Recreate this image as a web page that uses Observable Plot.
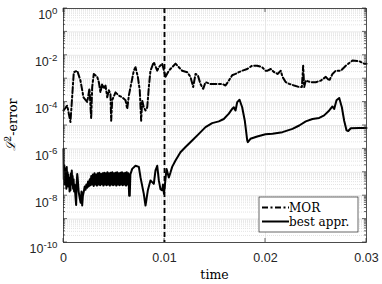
<!DOCTYPE html>
<html><head><meta charset="utf-8">
<script src="https://cdn.jsdelivr.net/npm/d3@7"></script>
<script src="https://cdn.jsdelivr.net/npm/@observablehq/plot@0.6"></script>
<style>body{margin:0;background:#fff}</style>
</head><body><div id="chart"></div>
<script>
// ---- data ----
const morT = [0,0.00037,0.00069,0.00102,0.00136,0.00168,0.00198,0.00235,0.00257,0.00274,0.00284,0.0030,0.00334,0.0035,0.00366,0.00383,0.00399,0.00416,0.00433,0.00449,0.00465,0.00472,0.00482,0.00515,0.00548,0.00581,0.00614,0.00631,0.00647,0.0067,0.00696,0.00713,0.00736,0.00755,0.00769,0.00779,0.00795,0.00812,0.00829,0.00845,0.00861,0.00894,0.00928,0.00944,0.00977,0.0101,0.01043,0.01076,0.01109,0.01142,0.01175,0.01225,0.01257,0.01284,0.01307,0.0133,0.01356,0.01383,0.01406,0.01455,0.01505,0.01571,0.01604,0.01637,0.0167,0.01703,0.01736,0.01769,0.01819,0.01868,0.01918,0.01967,0.02,0.0202,0.02052,0.02086,0.02119,0.02151,0.02168,0.02201,0.02235,0.02284,0.02334,0.0236,0.02373,0.02383,0.02399,0.02449,0.02498,0.02548,0.02597,0.02631,0.02663,0.02696,0.02746,0.02795,0.02861,0.02928,0.02977,0.03];
const morV = [4.4e-5,7.1e-5,1.4e-5,1.9e-3,2.2e-3,8.3e-4,1.6e-4,1.0e-4,3.8e-4,2.0e-5,4.4e-4,1.6e-3,1.2e-3,7.1e-4,2.6e-4,6.0e-4,3.7e-4,5.1e-4,1.6e-4,3.2e-4,2.2e-4,1.6e-5,1.2e-4,2.6e-4,1.9e-4,1.6e-4,1.2e-4,5.1e-5,1.9e-4,6.0e-4,2.2e-3,3.1e-3,1.2e-3,3.2e-4,1.6e-5,1.2e-4,6.0e-5,4.4e-5,6.0e-5,4.4e-4,2.2e-3,5.1e-3,2.2e-3,3.1e-3,4.4e-3,1.2e-3,2.2e-3,3.1e-3,4.4e-3,3.1e-3,2.2e-3,1.9e-3,1.2e-3,4.4e-4,1.6e-3,1.4e-3,6.0e-4,3.7e-4,7.1e-4,6.0e-4,6.0e-4,6.0e-4,5.1e-4,8.3e-4,1.4e-3,1.6e-3,1.9e-3,2.2e-3,2.6e-3,3.6e-3,3.6e-3,3.1e-3,2.2e-3,2.2e-3,2.6e-3,1.9e-3,1.6e-3,2.2e-3,1.2e-3,7.1e-4,6.0e-4,5.1e-4,4.4e-4,4.4e-4,3.6e-3,4.4e-4,8.3e-4,7.1e-4,7.1e-4,8.3e-4,1.2e-3,8.3e-4,1.6e-3,2.2e-3,2.2e-3,3.6e-3,6.0e-3,5.6e-3,4.4e-3,4.4e-3];

const bestT = [0,0.00003,0.00008,0.00012,0.00016,0.0002,0.00024,0.00028,0.00032,0.00036,0.0004,0.00044,0.00048,0.00052,0.00056,0.0006,0.00064,0.00069,0.00074,0.00078,0.00082,0.00086,0.0009,0.00095,0.001,0.00105,0.0011,0.00119,0.00125,0.0013,0.00136,0.0014,0.00145,0.0015,0.0016,0.0017,0.00178,0.00185,0.00192,0.00201,0.0021,0.00218,0.00226,0.00235,0.00243,0.00251,0.0026,
0.00267,0.00275,0.00283,0.00291,0.00299,0.00307,0.00315,0.00323,0.00331,0.00339,0.00347,0.00355,0.00363,0.00371,0.00379,0.00387,0.00395,0.00403,0.00411,0.00419,0.00427,0.00435,0.00443,0.00451,0.00459,0.00467,0.00475,0.00483,0.00491,0.00499,0.00507,0.00515,0.00523,0.00531,0.00539,0.00547,0.00555,0.00563,0.00571,0.00579,0.00587,0.00595,0.00603,0.00611,0.00619,0.00627,0.00635,0.00643,0.0065,0.00656,0.00662,
0.0068,0.00713,0.00746,0.00762,0.00795,0.00812,0.00835,0.00861,0.00894,0.00911,0.00928,0.00944,0.0096,0.00977,0.00985,0.00995,0.0102,0.01043,0.0106,0.01076,0.01109,0.01158,0.01208,0.01274,0.0134,0.01406,0.01472,0.01538,0.01587,0.01637,0.0167,0.01686,0.01703,0.0172,0.01743,0.01769,0.01795,0.01819,0.01825,0.01851,0.01918,0.02,0.02069,0.02168,0.02267,0.02334,0.02399,0.02465,0.02532,0.02581,0.02631,0.02663,0.0268,0.02703,0.0273,0.02756,0.02779,0.02802,0.02819,0.02845,0.02928,0.03];
const bestV = [1e-6,5e-8,2e-7,3e-8,1.5e-7,4e-8,1.2e-7,2e-8,1.7e-7,5e-8,1.0e-7,2.5e-8,8e-8,3e-8,6e-8,1.5e-8,5e-8,1.7e-8,9e-8,3e-8,1.2e-7,4e-8,7e-8,2e-8,5e-8,1.5e-8,3e-8,8.7e-9,4e-9,3e-8,8.5e-8,6e-8,3e-8,1.5e-8,8e-9,5e-9,1.5e-8,3.8e-9,1e-8,1.5e-8,2.5e-8,1.8e-8,3e-8,2.2e-8,4e-8,2.5e-8,5e-8,
2.8e-8,7e-8,3e-8,8e-8,2.6e-8,9e-8,3e-8,8e-8,2.7e-8,9e-8,3e-8,9.5e-8,2.8e-8,8.5e-8,3.1e-8,9e-8,2.7e-8,9.5e-8,3e-8,9e-8,2.8e-8,1.0e-7,3e-8,9e-8,2.7e-8,9.5e-8,3e-8,1.0e-7,2.8e-8,9e-8,3e-8,9.5e-8,2.7e-8,1.0e-7,3e-8,9e-8,2.8e-8,9.5e-8,3e-8,1.0e-7,2.8e-8,9e-8,3e-8,9.5e-8,2.7e-8,1.0e-7,3e-8,9e-8,1.0e-8,1.0e-8,8e-8,
1.4e-7,1.9e-7,1.7e-7,6.2e-8,1.2e-8,3.8e-9,1.7e-8,4.5e-8,3.2e-8,1.2e-7,1.9e-7,4.5e-8,1.9e-8,1.7e-8,3e-8,1.2e-8,1.4e-7,6e-8,1e-7,1.7e-7,3.2e-7,7.2e-7,1.2e-6,2.3e-6,4.4e-6,8.5e-6,1.26e-5,1.5e-5,1.9e-5,3.2e-5,5.1e-5,6.0e-5,4.4e-5,1.0e-4,1.26e-4,6.0e-5,1.6e-5,2.3e-6,1.95e-6,2.7e-6,3.4e-6,4.2e-6,4.4e-6,5.2e-6,7.2e-6,1.0e-5,1.5e-5,1.9e-5,2.1e-5,2.7e-5,4.4e-5,6.5e-5,5.1e-5,1.2e-4,1.5e-4,6.0e-5,1.6e-5,6.2e-6,5.8e-6,7.6e-6,7.9e-6,7.9e-6];

const xTicks = [0, 0.01, 0.02, 0.03];
const xTickLabels = ["0", "0.01", "0.02", "0.03"];
const yExponents = [0, -2, -4, -6, -8, -10];
const switchTime = [0.01];
const legendLabels = ["MOR", "best appr."];
const xLabel = "time";

// ---- derived tables ----
const mor = morT.map((t, i) => ({t, v: morV[i]}));
const best = bestT.map((t, i) => ({t, v: bestV[i]}));
const yTicks = yExponents.map(e => Math.pow(10, e));
const decades = d3.range(-10, 1).map(e => Math.pow(10, e));
const minors = [];
for (let e = -10; e < 0; e++) for (let k = 2; k <= 9; k++) minors.push(k * Math.pow(10, e));

const morDash = "6,2.5,2,2.5";
const W = 382, H = 284;
const plot = Plot.plot({
  width: W, height: H,
  marginLeft: 63, marginRight: 16, marginTop: 8, marginBottom: 42,
  style: {fontFamily: "'Liberation Sans', Arial, sans-serif", fontSize: "12.5px", background: "#fff", color: "#262626"},
  x: {domain: [0, 0.03]},
  y: {type: "log", domain: [1e-10, 1]},
  marks: [
    Plot.ruleY(minors, {stroke: "#d0d0d0", strokeWidth: 0.6, strokeDasharray: "1,1"}),
    Plot.ruleY(decades, {stroke: "#dedede", strokeWidth: 0.7}),
    Plot.ruleX(xTicks.slice(1, -1), {stroke: "#dedede", strokeWidth: 0.7}),
    Plot.line(mor, {x: "t", y: "v", stroke: "#000", strokeWidth: 2, strokeDasharray: morDash}),
    Plot.line(best, {x: "t", y: "v", stroke: "#000", strokeWidth: 2}),
    Plot.ruleX(switchTime, {stroke: "#000", strokeWidth: 1.8, strokeDasharray: "5,3"}),
    Plot.axisX(xTicks, {tickSize: 0, tickPadding: 11, tickFormat: (d, i) => xTickLabels[i], label: null}),
    Plot.axisY(yTicks, {tickSize: 0, tickPadding: 6, tickFormat: d => "10^" + Math.round(Math.log10(d)), label: null}),
    Plot.frame({stroke: "#262626", strokeWidth: 0.8})
  ]
});
document.getElementById("chart").appendChild(plot);

const svg = d3.select(plot.tagName === "svg" ? plot : plot.querySelector("svg"));
const sx = plot.scale("x"), sy = plot.scale("y");
const x0 = sx.apply(0), x1 = sx.apply(0.03), y0 = sy.apply(1e-10), y1 = sy.apply(1);

// superscript tick labels
svg.selectAll('g[aria-label="y-axis tick label"] text').each(function () {
  const [b, e] = this.textContent.split("^");
  const s = d3.select(this); s.text(null);
  s.attr("dy", "0.55em");
  s.append("tspan").text(b);
  s.append("tspan").attr("dy", "-0.55em").attr("font-size", "0.78em").text(e);
});

// inner ticks (box on)
const tg = svg.append("g").attr("stroke", "#262626").attr("stroke-width", 0.7);
decades.forEach(d => {
  const y = sy.apply(d);
  tg.append("line").attr("x1", x0).attr("x2", x0 + 4).attr("y1", y).attr("y2", y);
  tg.append("line").attr("x1", x1).attr("x2", x1 - 4).attr("y1", y).attr("y2", y);
});
minors.forEach(d => {
  const y = sy.apply(d);
  tg.append("line").attr("x1", x0).attr("x2", x0 + 2).attr("y1", y).attr("y2", y);
  tg.append("line").attr("x1", x1).attr("x2", x1 - 2).attr("y1", y).attr("y2", y);
});
xTicks.forEach(d => {
  const x = sx.apply(d);
  tg.append("line").attr("x1", x).attr("x2", x).attr("y1", y0).attr("y2", y0 - 4);
  tg.append("line").attr("x1", x).attr("x2", x).attr("y1", y1).attr("y2", y1 + 4);
});

// axis labels (LaTeX-like serif)
const serif = "'DejaVu Serif', 'Liberation Serif', serif";
svg.append("text").attr("x", (x0 + x1) / 2).attr("y", 279).attr("text-anchor", "middle")
  .attr("font-family", serif).attr("font-size", 12.5).attr("fill", "#000").text(xLabel);
const yl = svg.append("text").attr("transform", `translate(15,${(y0 + y1) / 2}) rotate(-90)`)
  .attr("text-anchor", "middle").attr("font-family", serif).attr("font-size", 12.5).attr("fill", "#000");
yl.append("tspan").attr("font-style", "italic").text("ℒ");
yl.append("tspan").attr("dy", "-0.45em").attr("font-size", "0.72em").text("2");
yl.append("tspan").attr("dy", "0.45em").text("-error");

// legend
const lg = svg.append("g").attr("transform", "translate(259,197)");
lg.append("rect").attr("width", 99).attr("height", 35).attr("fill", "#fff").attr("stroke", "#262626").attr("stroke-width", 0.7);
const styles = [{w: 2, dash: morDash}, {w: 2, dash: null}];
legendLabels.forEach((lab, i) => {
  const y = 10.5 + i * 14;
  const ln = lg.append("line").attr("x1", 3).attr("x2", 30).attr("y1", y).attr("y2", y)
    .attr("stroke", "#000").attr("stroke-width", styles[i].w);
  if (styles[i].dash) ln.attr("stroke-dasharray", styles[i].dash);
  lg.append("text").attr("x", 30).attr("y", y).attr("dy", "0.35em").attr("text-anchor", "start")
    .attr("font-family", serif).attr("font-size", 12).attr("fill", "#000").text(lab);
});
</script>
</body></html>
